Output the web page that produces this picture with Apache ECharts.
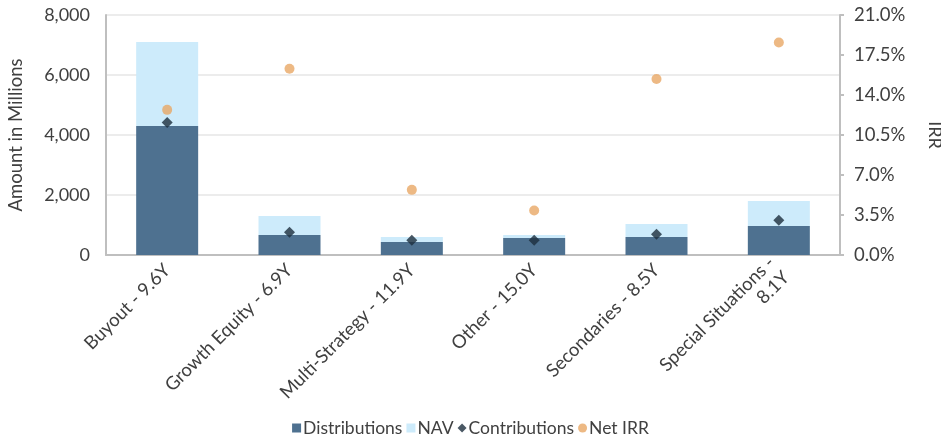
<!DOCTYPE html>
<html>
<head>
<meta charset="utf-8">
<script src="https://cdn.jsdelivr.net/npm/echarts@6/dist/echarts.min.js"></script>
<style>
  html, body { margin: 0; padding: 0; background: #fff; }
  #main { width: 941px; height: 443px; }
</style>
</head>
<body>
<div id="main"></div>
<script>
// values
var categories = ['Buyout - 9.6Y', 'Growth Equity - 6.9Y', 'Multi-Strategy - 11.9Y', 'Other - 15.0Y', 'Secondaries - 8.5Y', 'Special Situations -\n8.1Y'];
var distributions = [4300, 670, 430, 570, 600, 970];
var nav = [2800, 630, 170, 100, 430, 830];
var contributions = [4420, 760, 490, 490, 690, 1160];
var netIrr = [12.7, 16.3, 5.7, 3.9, 15.4, 18.6];
var leftTicks = { min: 0, max: 8000, interval: 2000 };
var rightTicks = { min: 0, max: 21, interval: 3.5 };

var font = 'Lato, "Open Sans", sans-serif';
var textColor = '#404040';
var axisGray = '#bfbfbf';

var myChart = echarts.init(document.getElementById('main'));
myChart.setOption({
  animation: false,
  textStyle: { fontFamily: font },
  grid: { left: 106, right: 101, top: 15, bottom: 188, outerBoundsMode: 'none', containLabel: false },
  legend: {
    bottom: 1,
    left: 'center',
    itemWidth: 9,
    itemHeight: 9,
    itemGap: 4,
    textStyle: { fontSize: 17.5, color: textColor, fontFamily: font, padding: [0, 0, 0, -3] },
    data: [
      { name: 'Distributions', icon: 'rect' },
      { name: 'NAV', icon: 'rect' },
      { name: 'Contributions', icon: 'diamond' },
      { name: 'Net IRR', icon: 'circle' }
    ]
  },
  xAxis: {
    type: 'category',
    data: categories,
    axisLine: { lineStyle: { color: axisGray, width: 2 } },
    axisTick: { alignWithLabel: true, length: 5, lineStyle: { color: axisGray, width: 2 } },
    axisLabel: { rotate: 45, fontSize: 18.5, color: textColor, margin: 12, align: 'right', lineHeight: 21 }
  },
  yAxis: [
    {
      type: 'value',
      min: leftTicks.min, max: leftTicks.max, interval: leftTicks.interval,
      name: 'Amount in Millions',
      nameLocation: 'middle',
      nameGap: 80,
      nameTextStyle: { fontSize: 18.5, color: textColor, fontFamily: font },
      axisLine: { show: true, lineStyle: { color: axisGray, width: 2 } },
      axisTick: { show: false },
      axisLabel: { fontSize: 18, color: textColor, margin: 16,
        formatter: function (v) { return v.toLocaleString('en-US'); } },
      splitLine: { lineStyle: { color: '#e6e6e6', width: 1.5 } }
    },
    {
      type: 'value',
      min: rightTicks.min, max: rightTicks.max, interval: rightTicks.interval,
      name: 'IRR',
      nameLocation: 'middle',
      nameRotate: -90,
      nameGap: 86,
      nameTextStyle: { fontSize: 18, color: textColor, fontFamily: font },
      axisLine: { show: true, lineStyle: { color: axisGray, width: 2 } },
      axisTick: { show: true, length: 4, lineStyle: { color: axisGray, width: 2 } },
      axisLabel: { fontSize: 18.5, color: textColor, margin: 14,
        formatter: function (v) { return v.toFixed(1) + '%'; } },
      splitLine: { show: false }
    }
  ],
  series: [
    {
      name: 'Distributions', type: 'bar', stack: 'amt', barWidth: 62,
      itemStyle: { color: '#4e7190' }, data: distributions
    },
    {
      name: 'NAV', type: 'bar', stack: 'amt', barWidth: 62,
      itemStyle: { color: '#cdebfb' }, data: nav
    },
    {
      name: 'Contributions', type: 'scatter', symbol: 'diamond', symbolSize: 11,
      itemStyle: { color: '#1d2e3d' }, data: contributions, z: 5
    },
    {
      name: 'Net IRR', type: 'scatter', symbol: 'circle', symbolSize: 10, yAxisIndex: 1,
      itemStyle: { color: '#e8a765' }, data: netIrr, z: 5
    }
  ]
});
</script>
</body>
</html>
